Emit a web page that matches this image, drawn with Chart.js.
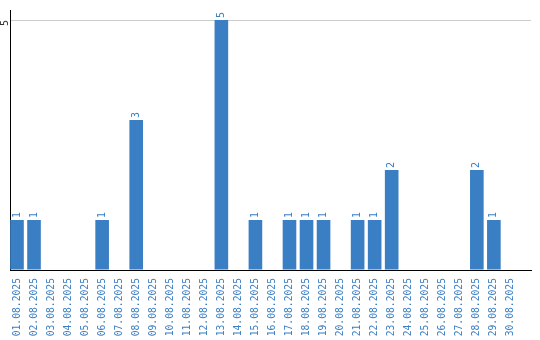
<!DOCTYPE html>
<html>
<head>
<meta charset="utf-8">
<title>Chart</title>
<style>
  html, body { margin: 0; padding: 0; background: #fff; }
  #wrap { width: 540px; height: 340px; }
</style>
</head>
<body>
<div id="wrap"><canvas id="myChart" width="540" height="340"></canvas></div>
<script src="https://cdn.jsdelivr.net/npm/chart.js@4/dist/chart.umd.min.js"></script>
<script>
var days = [
  '01.08.2025', '02.08.2025', '03.08.2025', '04.08.2025', '05.08.2025',
  '06.08.2025', '07.08.2025', '08.08.2025', '09.08.2025', '10.08.2025',
  '11.08.2025', '12.08.2025', '13.08.2025', '14.08.2025', '15.08.2025',
  '16.08.2025', '17.08.2025', '18.08.2025', '19.08.2025', '20.08.2025',
  '21.08.2025', '22.08.2025', '23.08.2025', '24.08.2025', '25.08.2025',
  '26.08.2025', '27.08.2025', '28.08.2025', '29.08.2025', '30.08.2025'
];
var counts = [1, 1, 0, 0, 0, 1, 0, 3, 0, 0, 0, 0, 5, 0, 1, 0, 1, 1, 1, 0, 1, 1, 2, 0, 0, 0, 0, 2, 1, 0];
var yTicks = [5];

var blue = '#3a7ec4';
var font = '10px "DejaVu Sans Mono"';

// rotated value labels above the bars + rotated y tick
var rotatedText = {
  id: 'rotatedText',
  afterDatasetsDraw: function (chart) {
    var ctx = chart.ctx;
    var meta = chart.getDatasetMeta(0);
    ctx.save();
    ctx.font = font;
    ctx.fillStyle = blue;
    ctx.textAlign = 'left';
    ctx.textBaseline = 'middle';
    meta.data.forEach(function (bar, i) {
      if (!counts[i]) return;
      ctx.save();
      ctx.translate(bar.x, bar.y - 2);
      ctx.rotate(-Math.PI / 2);
      ctx.fillText(String(counts[i]), 0, 0);
      ctx.restore();
    });
    var y = chart.scales.y;
    ctx.fillStyle = '#333';
    ctx.textAlign = 'center';
    yTicks.forEach(function (v) {
      ctx.save();
      ctx.translate(y.left + 5, y.getPixelForValue(v) + 3);
      ctx.rotate(-Math.PI / 2);
      ctx.fillText(String(v), 0, 0);
      ctx.restore();
    });
    ctx.restore();
  }
};

var myChart = new Chart(document.getElementById('myChart'), {
  type: 'bar',
  data: {
    datasets: [{
      data: counts.map(function (c, i) { return { x: i, y: c }; }),
      backgroundColor: blue,
      barPercentage: 0.8,
      categoryPercentage: 1
    }]
  },
  options: {
    responsive: false,
    animation: false,
    layout: { padding: { left: 0, right: 9, top: 10, bottom: 0 } },
    plugins: { legend: { display: false }, tooltip: { enabled: false } },
    scales: {
      x: {
        type: 'linear',
        min: -0.41,
        max: 30.18,
        offset: false,
        afterFit: function (s) { s.height = 70; },
        grid: { display: false },
        border: { color: '#000', width: 1 },
        ticks: {
          color: blue,
          font: { family: 'DejaVu Sans Mono', size: 9.7 },
          stepSize: 1,
          includeBounds: false,
          minRotation: 90,
          maxRotation: 90,
          autoSkip: false,
          padding: 0,
          callback: function (v) { return days[v] || ''; }
        }
      },
      y: {
        min: 0,
        max: 5.2,
        afterFit: function (s) { s.width = 10; },
        border: { color: '#000', width: 1 },
        grid: {
          drawTicks: false,
          color: function (c) { return c.tick && c.tick.value === 5 ? '#cccccc' : 'transparent'; }
        },
        ticks: { display: false, stepSize: 5, includeBounds: false }
      }
    }
  },
  plugins: [rotatedText]
});
</script>
</body>
</html>
